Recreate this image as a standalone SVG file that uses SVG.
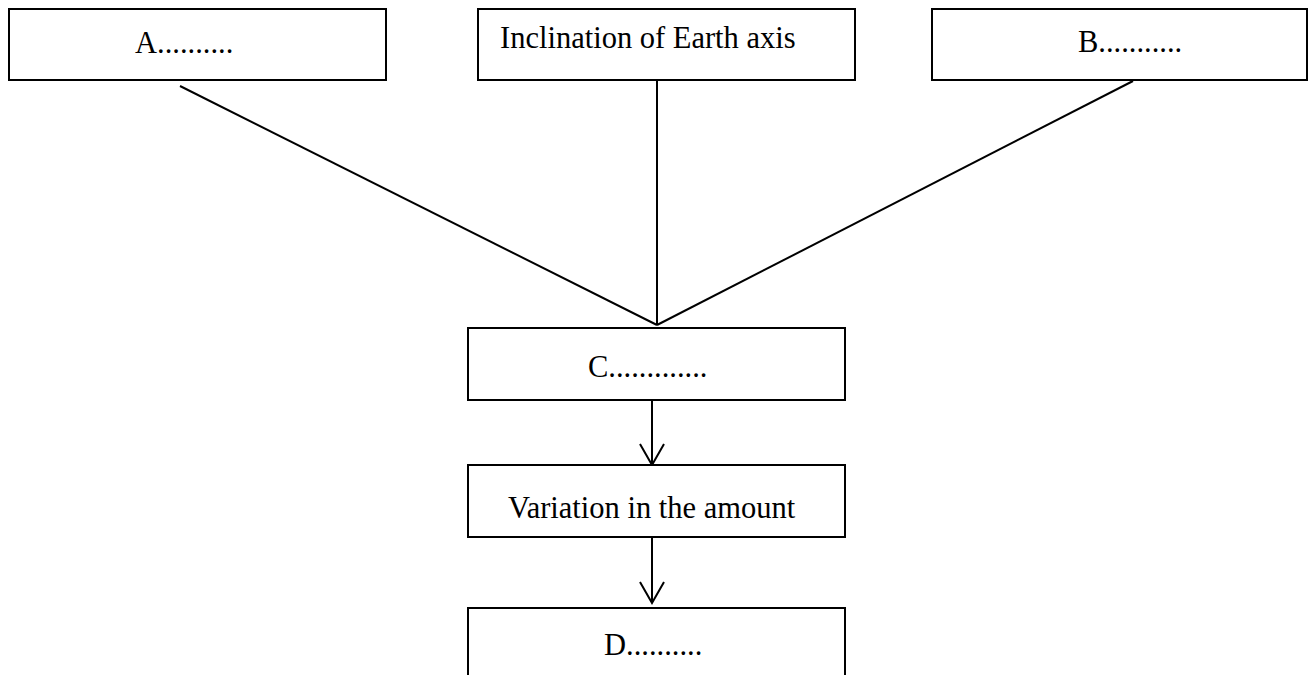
<svg xmlns="http://www.w3.org/2000/svg" width="1314" height="675" viewBox="0 0 1314 675">
<style>
.box{fill:#fff;stroke:#000;stroke-width:2}
.t{font-family:"Liberation Serif","Times New Roman",serif;font-size:30.5px;fill:#000}
.c{stroke:#000;stroke-width:2;fill:none}
</style>
<defs>
<marker id="v" viewBox="0 0 24 26" refX="22" refY="13" markerWidth="24" markerHeight="26" markerUnits="userSpaceOnUse" orient="auto">
<path d="M1,1 L22,13 L1,25" fill="none" stroke="#000" stroke-width="2"/>
</marker>
</defs>
<rect width="1314" height="675" fill="#fff"/>
<g id="connectors">
<line class="c" x1="180" y1="86" x2="657" y2="325"/>
<line class="c" x1="657" y1="81" x2="657" y2="325"/>
<line class="c" x1="1133" y1="81" x2="657" y2="325"/>
<line class="c" x1="652" y1="401" x2="652" y2="465" marker-end="url(#v)"/>
<line class="c" x1="652" y1="538" x2="652" y2="603" marker-end="url(#v)"/>
</g>
<g id="nodeA"><rect class="box" x="9" y="9" width="377" height="71"/><text class="t" x="135" y="53">A..........</text></g>
<g id="nodeIncl"><rect class="box" x="478" y="9" width="377" height="71"/><text class="t" x="500" y="48">Inclination of Earth axis</text></g>
<g id="nodeB"><rect class="box" x="932" y="9" width="375" height="71"/><text class="t" x="1078" y="52">B...........</text></g>
<g id="nodeC"><rect class="box" x="468" y="328" width="377" height="72"/><text class="t" x="588" y="377">C.............</text></g>
<g id="nodeV"><rect class="box" x="468" y="465" width="377" height="72"/><text class="t" x="508" y="518">Variation in the amount</text></g>
<g id="nodeD"><rect class="box" x="468" y="608" width="377" height="80"/><text class="t" x="604" y="655">D..........</text></g>
</svg>
